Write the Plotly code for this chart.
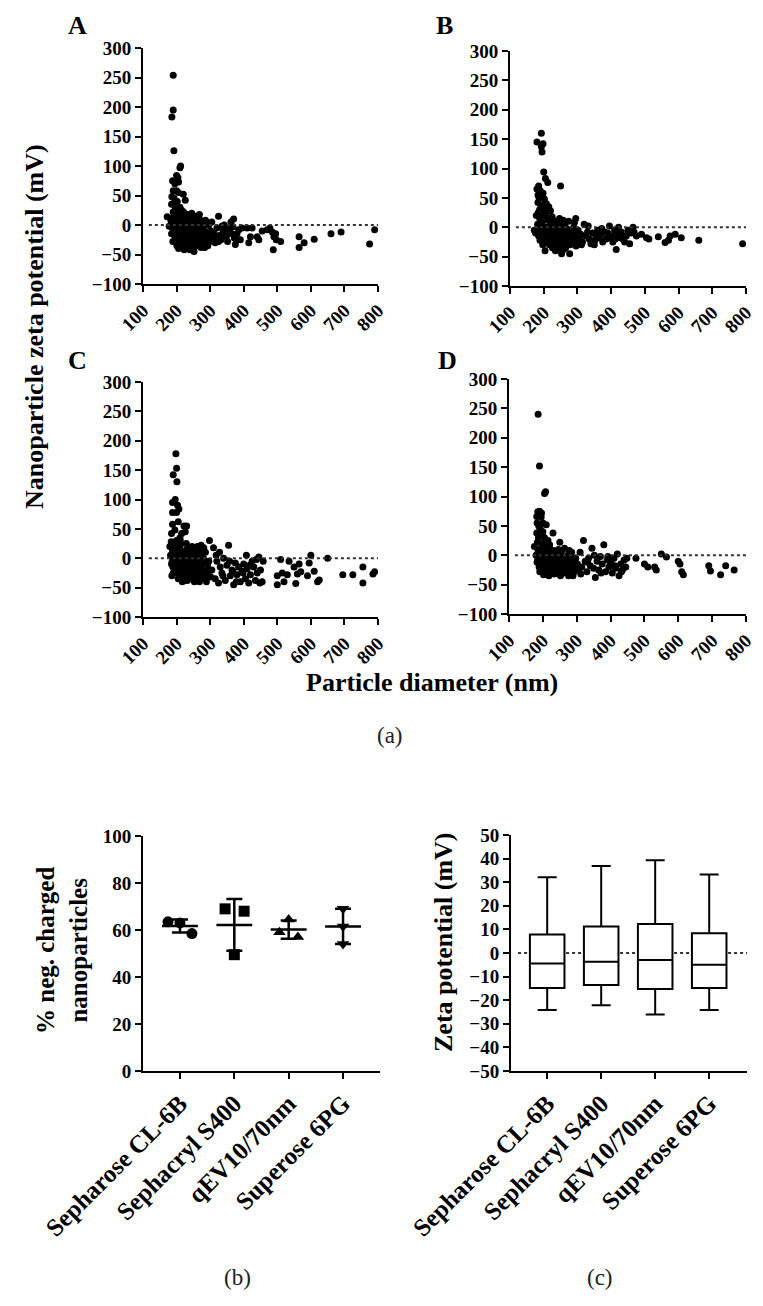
import plotly.graph_objects as go

W, H = 763, 1306

# ---------------- data ----------------
# (a) particle diameter (nm), zeta potential (mV) for the four fractions A-D
panel_a = [
    (190, 254), (186, 183), (190, 195), (192, 126), (212, 100), (210, 97), (200, 84), (204, 80),
    (206, 73), (188, 75), (195, 70), (190, 58), (200, 58), (205, 55), (220, 52), (186, 48),
    (193, 45), (202, 40), (226, 42), (185, 35), (196, 32), (210, 30), (215, 25), (190, 22),
    (172, 14), (178, -2), (183, 8),
    (185, -15), (188, -5), (192, 5), (195, 15), (198, -10), (200, 0), (203, 20), (205, -20),
    (208, 10), (210, -30), (212, -5), (215, 5), (218, -15), (220, -35), (222, 0), (225, 15),
    (228, -25), (230, -10), (232, -40), (235, 5), (238, -20), (240, -42), (242, -5), (245, 20),
    (248, -30), (250, -12), (252, -45), (255, 0), (258, -22), (260, 10), (262, -35), (265, -8),
    (268, 18), (270, -28), (272, -15), (275, 3), (278, -32), (280, -5), (283, -20), (286, 8),
    (288, -25), (290, -12), (293, -35), (296, 0), (298, -18),
    (206, -40), (216, -38), (226, -28), (236, -33), (246, -8), (256, -25), (266, -18), (276, -22),
    (286, -30), (218, 12), (233, 18), (243, -15), (253, 8), (263, -2), (273, -38), (196, -25),
    (201, -35), (213, -22), (224, -18), (234, -28), (191, -12), (199, 10), (207, -8), (217, -28),
    (227, 5), (239, -10), (249, -2), (259, -12), (269, -5), (279, -15), (289, 5), (299, -28),
    (187, 12), (194, -18), (197, 28), (204, -12), (209, 18), (214, -32), (219, -8), (223, -42),
    (229, 10), (237, -2), (244, -22), (251, -35), (257, 15), (264, -28), (271, 8), (277, -10),
    (284, -38), (291, -20), (189, -28), (202, 5), (211, -15), (221, 22), (231, -18), (241, 10),
    (247, -40), (261, -20), (267, -32), (274, -12),
    (302, -10), (305, 5), (310, -22), (315, -30), (320, -5), (325, 15), (328, -18), (332, -25),
    (338, -8), (342, 0), (348, -20), (352, -28), (358, -12), (362, 5), (368, -3), (372, -22),
    (375, -33), (380, -15), (385, -8), (390, -25), (395, -5), (312, -15), (335, -2), (355, -5),
    (370, 10), (345, -12), (325, -28), (365, -15), (378, -25),
    (410, -5), (415, -30), (420, -20), (425, -5), (440, -20), (445, -25), (455, -10), (470, -8),
    (478, -5), (485, -12), (488, -42), (490, -20), (495, -15), (497, -25), (510, -28), (565, -20),
    (565, -38), (580, -30), (610, -24), (660, -15), (690, -12), (775, -32), (790, -8),
]

panel_b = [
    (193, 160), (180, 145), (198, 142), (193, 137), (195, 128), (200, 94), (205, 83), (212, 76),
    (250, 70), (185, 70), (180, 65), (190, 62), (186, 50), (198, 58), (202, 48), (183, 42),
    (208, 40), (215, 35), (220, 28), (188, 30), (195, 25), (178, 20), (225, 18), (172, -5),
    (176, -10), (183, 55), (192, 38), (205, 22),
    (182, 5), (185, -15), (188, 15), (190, -5), (193, -20), (196, 8), (199, -12), (202, 20),
    (205, -25), (208, 0), (211, -8), (214, 12), (217, -30), (220, -15), (223, 5), (226, -35),
    (229, -5), (232, 10), (235, -40), (238, -18), (241, 0), (244, -28), (247, 15), (250, -10),
    (253, -45), (256, -22), (259, 5), (262, -15), (265, -35), (268, -2), (271, -25), (274, 10),
    (277, -45), (280, -15), (283, -5), (286, -28), (289, 0), (292, -18), (295, 15), (298, -10),
    (204, -40), (214, -22), (224, -10), (234, -25), (244, -5), (254, -30), (264, 8), (274, -20),
    (284, -8), (294, -25), (187, -8), (197, -30), (209, -18), (219, 3), (229, -20), (239, -32),
    (249, -20), (259, -38), (201, -3), (211, 15), (221, -22), (231, -12), (241, -15), (251, 2),
    (261, -8), (271, -12), (281, -22),
    (184, 25), (189, -22), (194, 0), (199, 30), (206, -12), (212, 28), (216, -5), (222, -28),
    (227, 12), (233, -38), (237, -8), (243, 5), (248, -25), (255, -12), (258, 12), (263, -28),
    (267, -18), (273, -5), (278, -30), (287, -15), (291, 8), (296, -32), (191, 10), (218, -18),
    (236, 2), (246, -35), (266, -8),
    (302, -5), (306, -20), (310, -12), (315, -25), (320, 5), (325, -15), (330, -8), (335, -20),
    (340, -28), (345, -10), (350, -30), (355, -15), (360, -5), (365, -18), (370, -12), (375, -25),
    (380, -8), (385, -20), (390, -10), (395, 2), (400, -15), (405, -25), (410, -5), (415, -38),
    (418, -12), (422, 0), (426, -18), (430, -8), (435, -20), (440, -25), (445, -15), (450, -5),
    (455, -28), (460, -10), (465, 0), (468, -8), (312, -30), (332, 2), (352, -22), (372, -2),
    (392, -18), (412, -20), (432, -15),
    (475, -15), (490, -12), (505, -18), (512, -20), (540, -16), (560, -26), (570, -22),
    (575, -15), (590, -12), (608, -18), (660, -22), (790, -28),
]

panel_c = [
    (198, 178), (200, 153), (201, 130), (190, 142), (196, 100), (188, 95), (203, 90), (207, 84),
    (200, 78), (188, 78), (188, 58), (195, 48), (185, 42), (230, 55), (222, 55), (215, 42),
    (210, 35), (200, 30), (192, 25), (180, 20), (205, 62), (226, 45),
    (182, 5), (185, -10), (188, 12), (190, -25), (193, 0), (196, 18), (199, -15), (202, 8),
    (205, -35), (208, -5), (211, 22), (214, -20), (217, 2), (220, -30), (223, 10), (226, -12),
    (229, 25), (232, -38), (235, -5), (238, 15), (241, -22), (244, 0), (247, -32), (250, 12),
    (253, -15), (256, -2), (259, -28), (262, 20), (265, -10), (268, -40), (271, 5), (274, -18),
    (277, -35), (280, 0), (283, -25), (286, 10), (289, -40), (292, -12), (295, -30), (298, 30),
    (203, -25), (213, -8), (223, -38), (233, 5), (243, -18), (253, -40), (263, -5), (273, 22),
    (283, -8), (293, -20), (187, -5), (197, -20), (207, 15), (217, -40), (227, 0), (237, -28),
    (191, 10), (201, -8), (211, 30), (221, -18), (231, -22), (241, 8), (251, -5), (261, -15),
    (271, -25), (281, 18),
    (184, 28), (189, -15), (194, 5), (199, 22), (204, -12), (209, -28), (215, 12), (219, -2),
    (225, -25), (230, 15), (236, -15), (240, -35), (246, 20), (252, -22), (257, 5), (264, -32),
    (269, 12), (276, -10), (287, -28), (296, -5), (186, -30), (206, 0), (228, -32), (248, -8),
    (266, -20),
    (305, -20), (310, 18), (315, -35), (320, -5), (325, -42), (330, -15), (335, -25), (340, 0),
    (345, -38), (350, -12), (355, 22), (360, -30), (365, -20), (370, -45), (375, -8), (380, -28),
    (385, -15), (390, -40), (395, -22), (400, -10), (405, -35), (410, -18), (415, -42), (420, -28),
    (425, -5), (430, -15), (435, -38), (440, -25), (445, 2), (450, -20), (455, -40), (458, -5),
    (302, -32), (318, 5), (338, -30), (358, -5), (378, -40), (398, -25), (418, -12), (438, -2),
    (448, -42), (328, 10), (368, -22), (408, 5),
    (500, -45), (500, -30), (510, -2), (515, -25), (520, -40), (530, -28), (535, -5), (550, -15),
    (555, -43), (560, -27), (565, -10), (570, -23), (590, -30), (595, -8), (600, 5), (610, -22),
    (620, -40), (625, -37), (650, 0), (695, -28), (725, -28), (755, -42), (755, -15), (785, -27),
    (790, -23),
]

panel_d = [
    (186, 240), (190, 152), (205, 105), (208, 108), (190, 75), (185, 74), (182, 66), (195, 65),
    (200, 55), (183, 55), (188, 50), (192, 45), (210, 52), (230, 38), (182, 38), (205, 30),
    (198, 35), (215, 25), (220, 18), (250, 22), (175, 15), (196, 72),
    (180, 0), (183, -12), (186, 8), (189, -20), (192, -5), (195, 12), (198, -25), (201, 2),
    (204, -15), (207, -30), (210, 5), (213, -8), (216, -22), (219, 15), (222, -2), (225, -28),
    (228, -12), (231, 8), (234, -32), (237, -18), (240, 0), (243, -25), (246, 10), (249, -10),
    (252, -35), (255, -20), (258, -3), (261, -30), (264, 12), (267, -15), (270, -25), (273, 0),
    (276, -35), (279, -8), (282, -20), (285, 5), (288, -28), (291, -12), (294, -22), (297, -5),
    (191, -28), (202, -33), (212, 18), (223, -18), (233, -5), (243, -10), (253, 3), (263, -22),
    (273, -30), (283, -15), (293, -28), (185, -8), (196, -2), (218, -35), (238, -22), (258, -12),
    (199, 20), (209, -15), (229, -25), (248, -28), (268, -5), (278, 8), (289, -35),
    (184, 22), (188, 2), (194, -15), (197, 8), (203, -8), (206, 12), (211, -25), (215, -2),
    (221, 5), (226, -20), (232, -12), (236, 5), (241, -30), (245, -15), (251, -5), (256, 8),
    (260, -18), (266, -28), (271, -10), (275, -20), (281, -2), (286, -15), (295, -12), (187, 30),
    (200, 40), (214, -18), (239, -8),
    (302, -15), (306, -25), (310, 5), (315, -20), (320, 25), (325, -10), (330, -28), (335, -5),
    (340, -18), (345, 12), (350, -22), (355, -38), (360, -10), (365, -25), (370, -2), (375, -15),
    (380, 18), (385, -28), (390, -8), (395, -20), (400, -12), (405, -30), (410, -5), (415, -22),
    (420, 2), (425, -35), (430, -15), (435, -25), (440, -8), (445, -20), (448, -5), (312, -32),
    (332, -12), (352, 0), (372, -30), (392, -2), (412, -18), (432, -28),
    (475, -5), (500, -15), (510, -20), (530, -20), (535, -25), (550, 2), (565, -3), (600, -10),
    (605, -15), (610, -28), (615, -33), (690, -18), (695, -27), (725, -33), (740, -18), (765, -25),
]

# (b) % negatively charged nanoparticles, three replicates per column
columns = ["Sepharose CL-6B", "Sephacryl S400", "qEV10/70nm", "Superose 6PG"]
neg_cl6b = [63.5, 63.0, 58.5]
neg_s400 = [69.0, 68.0, 49.5]
neg_qev = [64.5, 59.0, 57.0]
neg_6pg = [69.0, 61.5, 54.0]

# (c) zeta potential box plot statistics (mV)
box_low = [-24.1, -22.1, -26.1, -24.1]
box_q1 = [-14.8, -13.6, -15.3, -14.8]
box_med = [-4.5, -3.7, -3.0, -5.0]
box_q3 = [7.8, 11.2, 12.3, 8.4]
box_high = [32.1, 36.9, 39.3, 33.3]

# ---------------- styling ----------------
SERIF = "Liberation Serif"
TICKFONT = dict(family=SERIF, size=19, color="black", weight="bold")


def xd(l, r):
    return [l / W, r / W]


def yd(t, b):
    return [1 - b / H, 1 - t / H]


axis_common = dict(showline=True, linecolor="black", linewidth=2, ticks="outside",
                   ticklen=6, tickwidth=2, tickcolor="black", showgrid=False,
                   zeroline=False, tickfont=TICKFONT, fixedrange=True, automargin=False)

fig = go.Figure()

scatter_panels = [
    (panel_a, "x", "y", xd(143, 378), yd(48, 284), "A", 77, 25),
    (panel_b, "x2", "y2", xd(510, 746), yd(51, 286), "B", 445, 25),
    (panel_c, "x3", "y3", xd(143, 378), yd(382, 617), "C", 77, 360),
    (panel_d, "x4", "y4", xd(509, 746), yd(379, 614), "D", 447, 360),
]

layout = dict(width=W, height=H, margin=dict(l=0, r=0, t=0, b=0, autoexpand=False),
              paper_bgcolor="white", plot_bgcolor="white", showlegend=False)
annotations = []
shapes = []

for data, xa, ya, xdom, ydom, letter, lx, ly in scatter_panels:
    fig.add_trace(go.Scatter(
        x=[p[0] for p in data], y=[p[1] for p in data], mode="markers",
        marker=dict(color="black", size=7), xaxis=xa, yaxis=ya, hoverinfo="skip"))
    xkey = "xaxis" if xa == "x" else "xaxis" + xa[1:]
    ykey = "yaxis" if ya == "y" else "yaxis" + ya[1:]
    layout[xkey] = dict(axis_common, domain=xdom, anchor=ya, range=[100, 800],
                        tickmode="linear", tick0=100, dtick=100, tickangle=-45)
    layout[ykey] = dict(axis_common, domain=ydom, anchor=xa, range=[-100, 300],
                        tickmode="linear", tick0=-100, dtick=50)
    shapes.append(dict(type="line", xref=xa + " domain", yref=ya, x0=0.025, x1=1,
                       y0=0, y1=0, line=dict(color="#333", width=2, dash="dot")))
    annotations.append(dict(text=letter, x=lx / W, y=1 - ly / H, xref="paper", yref="paper",
                            showarrow=False, xanchor="center", yanchor="middle",
                            font=dict(family=SERIF, size=26, color="black", weight="bold")))

# (b) dot plot with mean +/- SD
reps = [neg_cl6b, neg_s400, neg_qev, neg_6pg]
symbols = ["circle", "square", "triangle-up", "triangle-down"]
offsets = [[-0.22, 0.0, 0.22], [-0.17, 0.18, 0.0], [0.0, -0.17, 0.17], [0.0, 0.0, 0.0]]
for i, vals in enumerate(reps):
    mean = sum(vals) / len(vals)
    sd = (sum((v - mean) ** 2 for v in vals) / (len(vals) - 1)) ** 0.5
    fig.add_trace(go.Scatter(
        x=[i + o for o in offsets[i]], y=vals, mode="markers",
        marker=dict(color="black", size=11, symbol=symbols[i]),
        xaxis="x5", yaxis="y5", hoverinfo="skip"))
    fig.add_trace(go.Scatter(
        x=[i - 0.33, i + 0.33], y=[mean, mean], mode="lines",
        line=dict(color="black", width=2.5), xaxis="x5", yaxis="y5", hoverinfo="skip"))
    fig.add_trace(go.Scatter(
        x=[i], y=[mean], mode="markers", marker=dict(size=1, color="rgba(0,0,0,0)"),
        error_y=dict(type="data", array=[sd], visible=True, color="black",
                     thickness=2.5, width=8),
        xaxis="x5", yaxis="y5", hoverinfo="skip"))

cat_font = dict(family=SERIF, size=25, color="black", weight="bold")
layout["xaxis5"] = dict(axis_common, domain=xd(143, 380), anchor="y5", range=[-0.68, 3.68],
                        tickmode="array", tickvals=[0, 1, 2, 3], ticktext=columns,
                        tickangle=-45, tickfont=cat_font)
layout["yaxis5"] = dict(axis_common, domain=yd(836, 1071), anchor="x5", range=[0, 100],
                        tickmode="linear", tick0=0, dtick=20)

# (c) box plot
fig.add_trace(go.Box(
    x=[0, 1, 2, 3], q1=box_q1, median=box_med, q3=box_q3,
    lowerfence=box_low, upperfence=box_high, width=0.64, whiskerwidth=0.55,
    fillcolor="white", line=dict(color="black", width=2), boxpoints=False,
    xaxis="x6", yaxis="y6", hoverinfo="skip"))
layout["xaxis6"] = dict(axis_common, domain=xd(511, 747), anchor="y6", range=[-0.67, 3.7],
                        tickmode="array", tickvals=[0, 1, 2, 3], ticktext=columns,
                        tickangle=-45, tickfont=cat_font)
layout["yaxis6"] = dict(axis_common, domain=yd(835, 1071), anchor="x6", range=[-50, 50],
                        tickmode="linear", tick0=-50, dtick=10)
shapes.append(dict(type="line", xref="x6 domain", yref="y6", x0=0.03, x1=1,
                   y0=0, y1=0, line=dict(color="#333", width=2, dash="dot"), layer="below"))

title_font = dict(family=SERIF, size=26, color="black", weight="bold")
label_font = dict(family=SERIF, size=23, color="#222")
annotations += [
    dict(text="Nanoparticle zeta potential (mV)", x=35 / W, y=1 - 327 / H, textangle=-90,
         font=title_font),
    dict(text="Particle diameter (nm)", x=432 / W, y=1 - 682 / H, font=title_font),
    dict(text="(a)", x=390 / W, y=1 - 735 / H, font=label_font),
    dict(text="% neg. charged<br>nanoparticles", x=62 / W, y=1 - 950 / H, textangle=-90,
         font=dict(title_font, size=25)),
    dict(text="Zeta potential (mV)", x=443 / W, y=1 - 942 / H, textangle=-90,
         font=title_font),
    dict(text="(b)", x=237 / W, y=1 - 1277 / H, font=label_font),
    dict(text="(c)", x=600 / W, y=1 - 1277 / H, font=label_font),
]
for a in annotations:
    a.setdefault("xref", "paper")
    a.setdefault("yref", "paper")
    a.setdefault("showarrow", False)
    a.setdefault("xanchor", "center")
    a.setdefault("yanchor", "middle")

layout["annotations"] = annotations
layout["shapes"] = shapes
fig.update_layout(**layout)

fig.write_html("out.html", config={"displayModeBar": False},
               post_script="document.body.style.margin='0';document.body.style.overflow='hidden';")
